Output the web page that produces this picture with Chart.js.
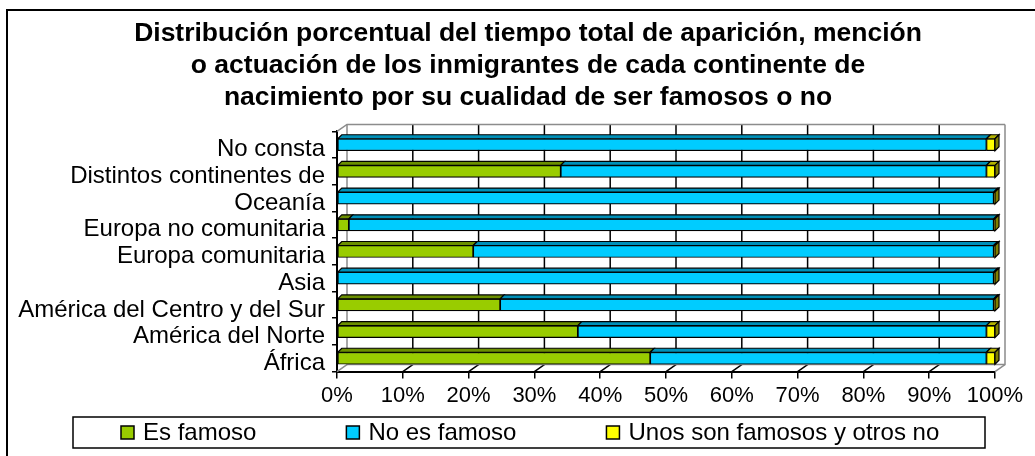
<!DOCTYPE html>
<html>
<head>
<meta charset="utf-8">
<script src="https://cdn.jsdelivr.net/npm/chart.js@4.4.0/dist/chart.umd.min.js"></script>
<style>
  html, body { margin: 0; padding: 0; background: #fff; }
  #wrap { width: 1035px; height: 456px; }
</style>
</head>
<body>
<div id="wrap"><canvas id="myChart"></canvas></div>
<script>
const categories = [
  'No consta',
  'Distintos continentes de',
  'Oceanía',
  'Europa no comunitaria',
  'Europa comunitaria',
  'Asia',
  'América del Centro y del Sur',
  'América del Norte',
  'África'
];
const esFamoso      = [0,    34.0, 0,    1.8,  20.7, 0,    24.8, 36.6, 47.6];
const noEsFamoso    = [98.7, 64.7, 99.8, 98.0, 79.1, 99.8, 75.0, 62.1, 51.1];
const unosSiOtrosNo = [1.3,  1.3,  0.2,  0.2,  0.2,  0.2,  0.2,  1.3,  1.3];
const seriesNames = ['Es famoso', 'No es famoso', 'Unos son famosos y otros no'];
const xTickLabels = ['0%', '10%', '20%', '30%', '40%', '50%', '60%', '70%', '80%', '90%', '100%'];
const titleLines = [
  'Distribución porcentual del tiempo total de aparición, mención',
  'o actuación de los inmigrantes de cada continente de',
  'nacimiento por su cualidad de ser famosos o no'
];

const FONT = '"Liberation Sans", Arial, sans-serif';
const fills = ['#99cc00', '#00ccff', '#ffff00'];
const tops  = ['#6b8f00', '#0090b8', '#b3b300'];
const sides = ['#4d6600', '#006680', '#808000'];

// depth of the walls and of the bars
const DX = 10, DY = -7;
const BDX = 4, BDY = -4;

function poly(ctx, pts, fill) {
  ctx.beginPath();
  ctx.moveTo(pts[0][0], pts[0][1]);
  for (let i = 1; i < pts.length; i++) ctx.lineTo(pts[i][0], pts[i][1]);
  ctx.closePath();
  ctx.fillStyle = fill;
  ctx.fill();
  ctx.stroke();
}

const depth = {
  id: 'depth',
  afterLayout(chart) {
    // long category names reach into the left padding; don't clip them there
    chart.scales.y.left = 0;
  },
  beforeDatasetsDraw(chart) {
    const { ctx, chartArea: a, scales: { x } } = chart;
    ctx.save();
    ctx.lineWidth = 1.5;
    x.ticks.forEach(t => {
      const px = x.getPixelForValue(t.value);
      ctx.strokeStyle = (t.value === 0 || t.value === 100) ? '#8c8c8c' : '#000';
      ctx.beginPath();
      ctx.moveTo(px + DX, a.top + DY);
      ctx.lineTo(px + DX, a.bottom + DY);
      ctx.lineTo(px, a.bottom);
      ctx.stroke();
    });
    ctx.strokeStyle = '#8c8c8c';
    ctx.beginPath();
    ctx.moveTo(a.left, a.top);
    ctx.lineTo(a.left + DX, a.top + DY);
    ctx.lineTo(a.right + DX, a.top + DY);
    ctx.moveTo(a.left + DX, a.bottom + DY);
    ctx.lineTo(a.right + DX, a.bottom + DY);
    ctx.stroke();
    ctx.restore();
  },
  afterDatasetsDraw(chart) {
    const { ctx } = chart;
    const metas = chart.getSortedVisibleDatasetMetas();
    ctx.save();
    ctx.lineWidth = 1.2;
    ctx.strokeStyle = '#000';
    chart.data.labels.forEach((lab, i) => {
      let last = null;
      metas.forEach((m, di) => {
        const p = m.data[i].getProps(['x', 'y', 'base', 'height'], true);
        if (Math.abs(p.x - p.base) < 0.01) return;
        const x0 = Math.min(p.x, p.base), x1 = Math.max(p.x, p.base);
        const top = p.y - p.height / 2;
        poly(ctx, [[x0, top], [x1, top], [x1 + BDX, top + BDY], [x0 + BDX, top + BDY]], tops[di]);
        last = { x1, top, bottom: p.y + p.height / 2, di };
      });
      if (last) {
        poly(ctx, [[last.x1, last.top], [last.x1 + BDX, last.top + BDY],
                   [last.x1 + BDX, last.bottom + BDY], [last.x1, last.bottom]], sides[last.di]);
      }
    });
    ctx.restore();
  },
  afterDraw(chart) {
    const { ctx } = chart;
    ctx.save();
    ctx.strokeStyle = '#000';
    ctx.lineWidth = 2;
    ctx.strokeRect(7, 10, 1045, 470);
    // legend
    ctx.lineWidth = 1.5;
    ctx.strokeRect(73, 417, 912, 31);
    ctx.font = '24px ' + FONT;
    ctx.textBaseline = 'middle';
    let lx = 121;
    chart.data.datasets.forEach(ds => {
      ctx.fillStyle = ds.backgroundColor;
      ctx.fillRect(lx, 426, 13, 13);
      ctx.strokeRect(lx, 426, 13, 13);
      ctx.fillStyle = '#000';
      ctx.fillText(ds.label, lx + 22, 433);
      lx += 22 + ctx.measureText(ds.label).width + 90;
    });
    ctx.restore();
  }
};

Chart.defaults.font.family = FONT;
Chart.defaults.color = '#000';

new Chart(document.getElementById('myChart').getContext('2d'), {
  type: 'bar',
  data: {
    labels: categories,
    datasets: [esFamoso, noEsFamoso, unosSiOtrosNo].map((vals, i) => ({
      label: seriesNames[i],
      data: vals,
      backgroundColor: fills[i],
      borderColor: '#000',
      borderWidth: 1.2,
      borderSkipped: false,
      barThickness: 12
    }))
  },
  options: {
    indexAxis: 'y',
    responsive: true,
    maintainAspectRatio: false,
    animation: false,
    layout: { padding: { top: 10, left: 61, right: 40, bottom: 43 } },
    plugins: {
      legend: { display: false },
      tooltip: { enabled: false },
      title: {
        display: true,
        text: titleLines,
        color: '#000',
        font: { size: 26.5, weight: 'bold', lineHeight: 1.2 },
        padding: { top: 8, bottom: 18 }
      }
    },
    scales: {
      x: {
        stacked: true,
        min: 0,
        max: 100,
        grid: { drawOnChartArea: false, tickLength: 7, color: '#000', lineWidth: 1.5 },
        border: { color: '#000', width: 2 },
        ticks: {
          stepSize: 10,
          padding: 4,
          font: { size: 22 },
          callback: (v, i) => xTickLabels[i]
        }
      },
      y: {
        stacked: true,
        afterFit(scale) { scale.width = 276; },
        grid: { offset: true, drawOnChartArea: false, tickLength: 5, color: '#000', lineWidth: 1.5 },
        border: { color: '#000', width: 2 },
        ticks: { autoSkip: false, padding: 7, labelOffset: 5, font: { size: 24 } }
      }
    }
  },
  plugins: [depth]
});
</script>
</body>
</html>
